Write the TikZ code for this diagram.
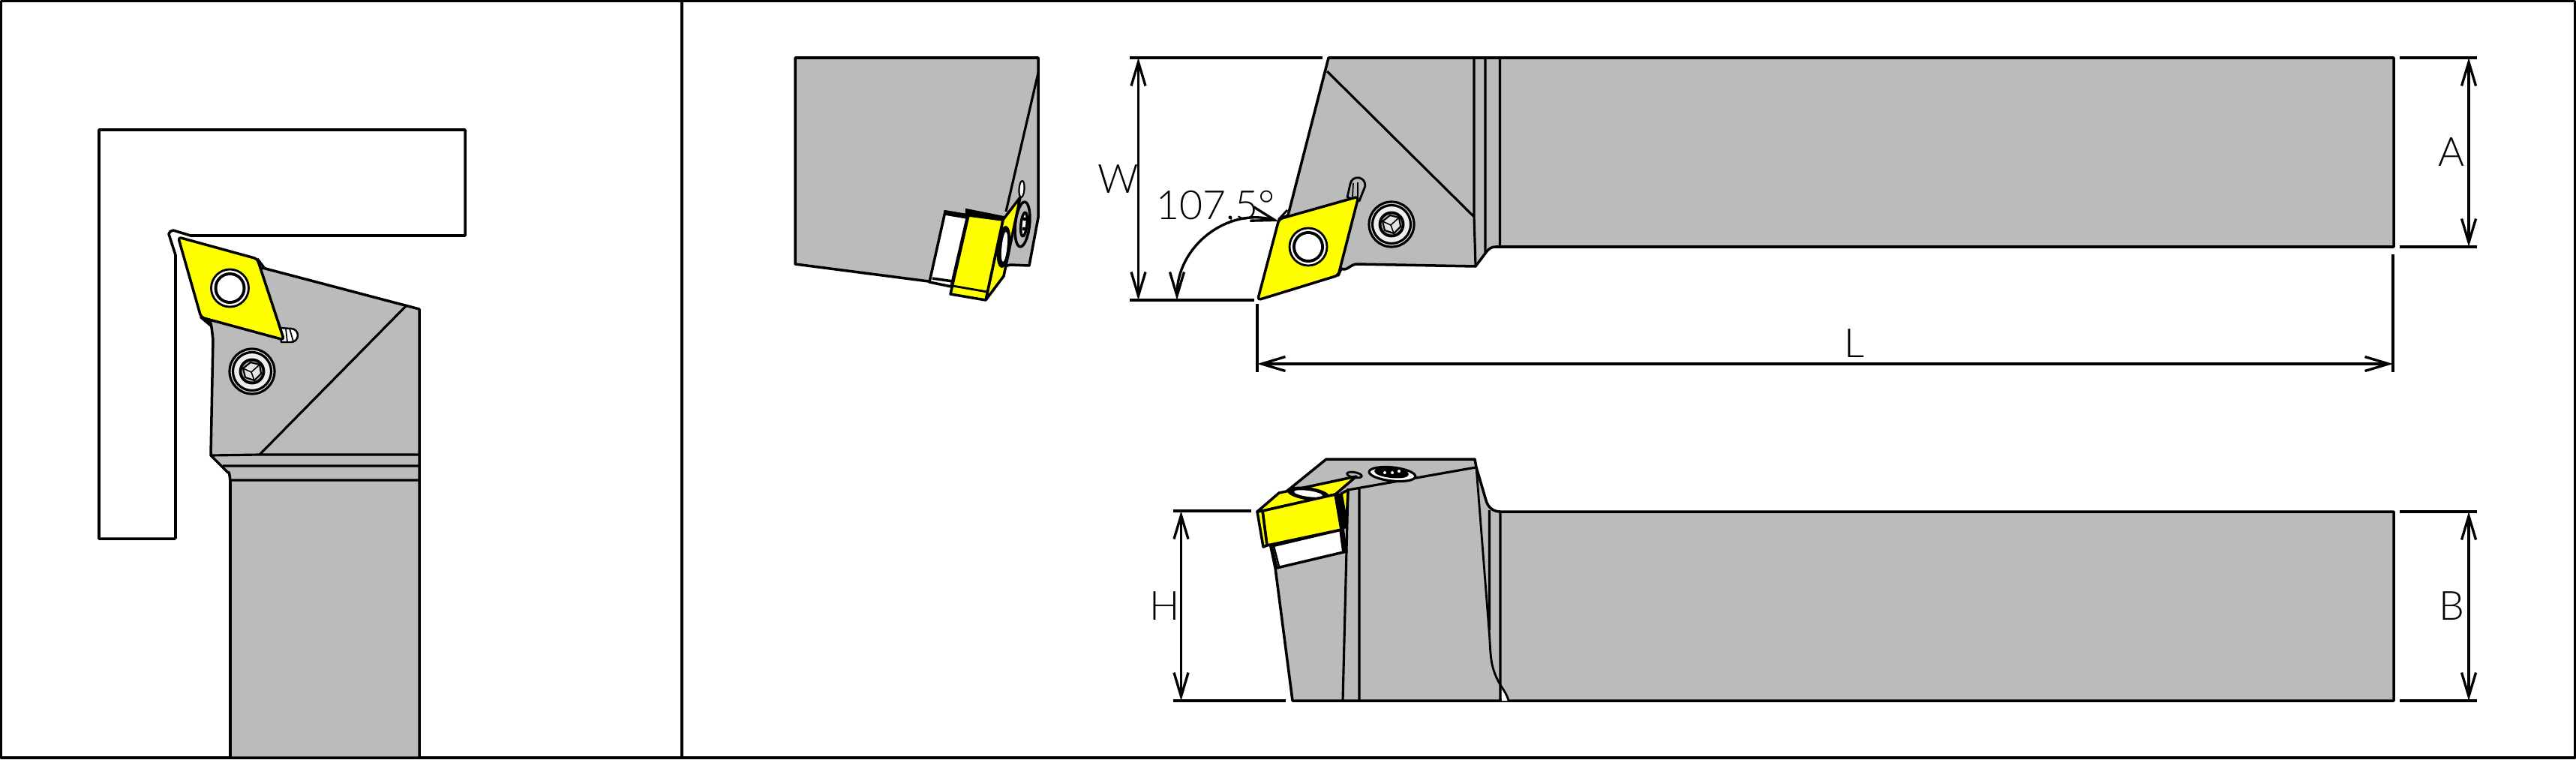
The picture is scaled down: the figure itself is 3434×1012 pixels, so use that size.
\documentclass[tikz,border=0pt]{standalone}
\usepackage{fontspec}
\setmainfont{Lato}[UprightFont=* Light]
\usetikzlibrary{arrows.meta}
\definecolor{bodygray}{HTML}{BBBBBB}
\definecolor{insertyellow}{HTML}{FFFF00}
\tikzset{
  part/.style={draw=black,line width=1pt,line join=round},
  body/.style={part,fill=bodygray},
  edge/.style={draw=black,line width=0.9pt},
  insert/.style={part,fill=insertyellow,rounded corners=1.2pt},
  plate/.style={part,fill=insertyellow},
  blank/.style={part,fill=white},
  ink/.style={draw=black,fill=black},
  dimline/.style={draw=black,line width=0.95pt},
  dimarrow/.style={dimline,{Straight Barb[length=9pt,width=5.4pt]}-{Straight Barb[length=9pt,width=5.4pt]}},
  dimlabel/.style={font=\fontsize{15.2}{16}\selectfont,inner sep=0pt,text=black},
  pics/facehole/.style={code={
    \draw[part,fill=white,line width=.8pt] (0,0) circle[radius=25];
    \fill[black] (0,0) circle[radius=21];
    \fill[white] (0,0) circle[radius=17];
  }},
  pics/capscrew/.style={code={
    \draw[part,fill=white!55!bodygray,line width=.9pt] (0,0) circle[radius=30];
    \draw[part,fill=white!75!bodygray,line width=.9pt] (0,0) circle[radius=25.5];
    \draw[part,fill=bodygray,line width=1.1pt] (0,0) circle[radius=15.5];
    \draw[part,fill=white!60!bodygray,line width=.6pt] (-12,-4) -- (-2,-12) -- (10,-9) -- (12,3) -- (3,12) -- (-9,8) -- cycle;
    \draw[part,line width=.45pt] (-12,-4) -- (-1,1) -- (10,-9) (-1,1) -- (3,12);
  }},
}
\begin{document}
\begin{tikzpicture}[x=0.01cm,y=-0.01cm]
\useasboundingbox (0,0) rectangle (3434,1012);
\fill[white] (0,0) rectangle (3434,1012);

% ---- panel frame
\draw[part] (1.5,1.5) rectangle (3432.5,1010);
\draw[part] (909,1.5) -- (909,1010);

% ---- left view: workpiece outline
\draw[part] (234,718) -- (132,718) -- (132,173) -- (620,173) -- (620,314) -- (254,314)
  -- (231,307) to[out=190,in=90] (225,312) -- (234,340) -- (234,718);

% ---- left view: tool
\path[body] (350,357) -- (559,412) -- (559,1010) -- (307,1010) -- (307,641)
   to[out=270,in=60] (304,630) -- (281,607) -- (284,451) to[out=270,in=70] (279,430) -- (268,423) -- cycle;
\draw[edge] (541,408) -- (346,606) (281,607) -- (346,606) -- (559,606)
  (297,621) -- (559,621) (307,640) -- (559,640);
\draw[part] (343,345) -- (353,358) (268,423) -- (281,434);
% left view slot
\draw[part,fill=white,line width=.7pt] (373,437) -- (388,438) arc[start angle=270,end angle=450,radius=9] -- (375,456) -- cycle;
\draw[part,line width=.5pt] (381,438) -- (383,456) (386,438) -- (391,455);
\draw[insert] (237.5,316) -- (343,345) -- (378.6,453) -- (268,423) -- cycle;
\pic at (306.5,384) {facehole};
\pic at (336,495) {capscrew};

% ---- middle (end) view
\draw[body] (1060,77) -- (1384,77) -- (1384,290) -- (1372,354) -- (1347,353) -- (1320,360) -- (1238,375) -- (1060,352) -- cycle;
\draw[edge] (1384,97) -- (1341,282);
\draw[part,fill=white,line width=.6pt] (1362,252) ellipse[x radius=3.5,y radius=11,rotate=-4];
\draw[part,fill=bodygray,line width=1pt] (1363,299) ellipse[x radius=9.5,y radius=30,rotate=-6];
\draw[part,fill=white,line width=1pt] (1365,299) ellipse[x radius=4,y radius=16,rotate=-6];
\fill[black] (1366,292) circle[radius=2.5] (1365,305) circle[radius=2.5];
\draw[blank] (1260,282) -- (1290,287) -- (1268,382) -- (1239,376) -- cycle;
\draw[part] (1243,371) -- (1270,375);
\draw[ink,line width=1pt] (1260,282) -- (1290,287) -- (1289,290) -- (1260,285) -- cycle;
\draw[ink,line width=.6pt] (1288,279) -- (1338,289) -- (1337,294) -- (1288,285) -- cycle;
\draw[part,fill=white,line width=.6pt] (1290,284.5) -- (1337,292) -- (1337,293.5) -- (1290,286) -- cycle;
\draw[plate] (1337,293) -- (1360,263) -- (1338,368) -- (1314,400) -- cycle;
\draw[plate] (1291,287) -- (1337,293) -- (1314,400) -- (1267,392) -- cycle;
\draw[part,line width=.8pt] (1270,381) -- (1316,389);
\draw[part,fill=black,line width=.6pt] (1338,329) ellipse[x radius=8,y radius=27,rotate=-6];
\draw[draw=none,fill=white] (1339,329) ellipse[x radius=3.5,y radius=20,rotate=-6];

% ---- top right view (plan)
\draw[body] (1771,77) -- (3191,77) -- (3191,329) -- (1999,329) -- (1994,329) to[out=180,in=50] (1982,335) -- (1967,355) -- (1808,352) to[out=185,in=330] (1788,358) -- (1784,367) -- (1705,292) -- (1717,287) -- cycle;
\draw[edge] (1769,95) -- (1964,288) (1965,77) -- (1965,288) -- (1967,355)
  (1980,77) -- (1980,338) (1999.5,77) -- (1999.5,329);
% plan view slot
\draw[part,fill=bodygray,line width=.8pt] (1796,263) -- (1800,245) arc[start angle=190,end angle=370,radius=10] -- (1812,268) -- cycle;
\draw[part,line width=.5pt] (1804,244) -- (1803,262) (1810,243) -- (1810,262);
\draw[part,line width=.8pt] (1705,292) -- (1716,280);
\draw[insert] (1705,292) -- (1811,262) -- (1784,367) -- (1676.5,400) -- cycle;
\pic at (1744,329) {facehole};
\pic at (1855,299) {capscrew};

% ---- bottom right view (side)
\draw[body] (1768,612) -- (1966,612) -- (1968,623) -- (1981,667) to[out=285,in=180] (2000,682) -- (3191,682) -- (3191,934) -- (1723,934) -- (1700,757) -- (1688,700) -- (1715,655) -- cycle;
\fill[white] (2002,913) to[out=300,in=110] (2011,934) -- (2002,934) -- cycle;
\draw[edge,line width=.8pt] (1968,623) -- (1985,840) to[out=275,in=120] (1999,911) to[out=300,in=105] (2011,934);
\draw[edge] (1967,623) -- (1797,653) -- (1790,934) (1812,650) -- (1812,934)
  (1985.5,680) -- (1985.5,840) (2000,682) -- (2000,934);
% side view fasteners
\draw[part,fill=white,line width=.9pt] (1856,632) ellipse[x radius=31,y radius=9,rotate=-6];
\draw[part,fill=black,line width=.6pt] (1855,630) ellipse[x radius=22,y radius=6,rotate=-6];
\fill[white] (1846,630) circle[radius=2] (1856,630) circle[radius=2] (1865,628) circle[radius=2];
\draw[part,fill=bodygray,line width=.8pt] (1805.5,633) ellipse[x radius=10,y radius=3.5,rotate=-10];
% side view shim and insert
\draw[blank] (1695,728) -- (1788,706) -- (1795,735) -- (1702,757) -- cycle;
\draw[part,line width=.7pt] (1698,728) -- (1705,755);
\draw[part,line width=.5pt,fill=black] (1786,706) -- (1791,705) -- (1795,734) -- (1790,736) -- cycle;
\draw[plate] (1797,653) -- (1788,658) -- (1795,697) -- cycle;
\draw[plate] (1676,682) -- (1705,657) -- (1808,635) -- (1780,659) -- (1683,681) -- cycle;
\draw[part,fill=black,line width=.6pt] (1744,658) ellipse[x radius=27,y radius=7.5,rotate=-8];
\fill[white] (1744,658) ellipse[x radius=19,y radius=4,rotate=-8];
\draw[plate] (1683,681) -- (1780,659) -- (1788,706) -- (1689,727) -- cycle;
\draw[plate] (1676,682) -- (1683,681) -- (1689,727) -- (1684,729) -- cycle;
\draw[ink,line width=.4pt] (1781,659) -- (1788,658) -- (1795,703) -- (1788,706) -- cycle;

% ---- dimension anchors
\coordinate (wTop) at (1517.5,77);
\coordinate (wBot) at (1517.5,400);
\coordinate (wTopA) at (1506,77);
\coordinate (wTopB) at (1763,77);
\coordinate (wBotA) at (1506,400);
\coordinate (wBotB) at (1672,400);
\coordinate (aTop) at (3291,77);
\coordinate (aBot) at (3291,329);
\coordinate (aTopA) at (3199,77);
\coordinate (aTopB) at (3302,77);
\coordinate (aBotA) at (3199,329);
\coordinate (aBotB) at (3302,329);
\coordinate (lLeft) at (1676,485);
\coordinate (lRight) at (3190,485);
\coordinate (lLeftA) at (1676,405);
\coordinate (lLeftB) at (1676,496);
\coordinate (lRightA) at (3190,339);
\coordinate (lRightB) at (3190,496);
\coordinate (hTop) at (1574.5,681);
\coordinate (hBot) at (1574.5,934);
\coordinate (hTopA) at (1564,681);
\coordinate (hTopB) at (1668,681);
\coordinate (hBotA) at (1564,934);
\coordinate (hBotB) at (1714,934);
\coordinate (bTop) at (3291,682);
\coordinate (bBot) at (3291,934);
\coordinate (bTopA) at (3199,682);
\coordinate (bTopB) at (3302,682);
\coordinate (bBotA) at (3199,934);
\coordinate (bBotB) at (3302,934);
\coordinate (angA) at (1569,400);
\coordinate (angB) at (1705,295);

% ---- dimension lines
\draw[dimline] (wTopA) -- (wTopB) (wBotA) -- (wBotB) (aTopA) -- (aTopB) (aBotA) -- (aBotB)
  (lLeftA) -- (lLeftB) (lRightA) -- (lRightB) (hTopA) -- (hTopB) (hBotA) -- (hBotB)
  (bTopA) -- (bTopB) (bBotA) -- (bBotB);
\draw[dimarrow] (wTop) -- (wBot);
\draw[dimarrow] (aTop) -- (aBot);
\draw[dimarrow] (lLeft) -- (lRight);
\draw[dimarrow] (hTop) -- (hBot);
\draw[dimarrow] (bTop) -- (bBot);
\draw[dimarrow] (angA) .. controls (1569,328) and (1636,276) .. (angB);

% ---- labels
\node[dimlabel] (labW) at (1491,239) {W};
\node[dimlabel] (labA) at (3268,203) {A};
\node[dimlabel] (labL) at (2472,458) {L};
\node[dimlabel] (labH) at (1553,808) {H};
\node[dimlabel] (labB) at (3268,808) {B};
\node[dimlabel,anchor=base west] (labAngle) at (1541,292) {107,5°};
\end{tikzpicture}
\end{document}
